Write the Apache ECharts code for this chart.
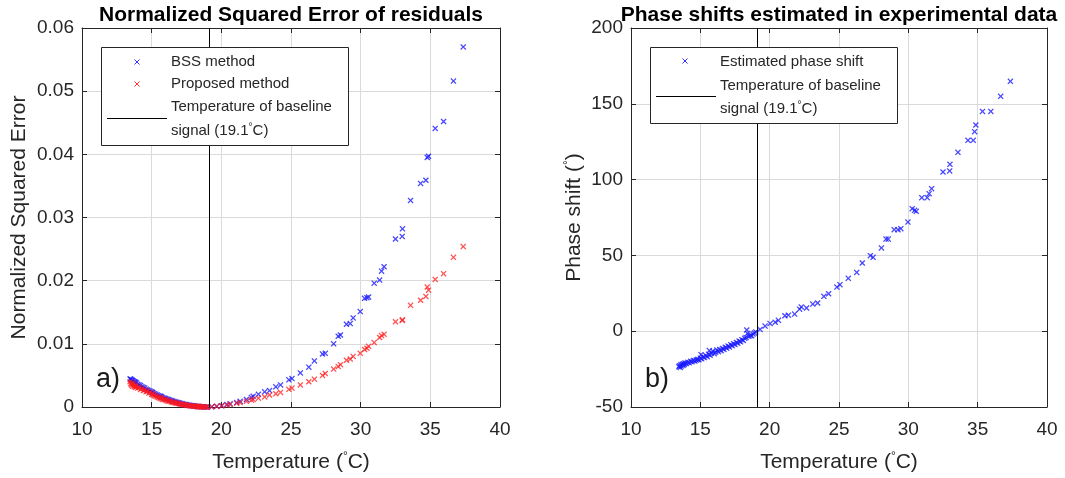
<!DOCTYPE html>
<html>
<head>
<meta charset="utf-8">
<script src="https://cdn.jsdelivr.net/npm/echarts@6/dist/echarts.min.js"></script>
<style>
html,body{margin:0;padding:0;background:#fff;}
#chart{width:1065px;height:478px;}
</style>
</head>
<body>
<div id="chart"></div>
<script>
// ---- Data ----
const temps = [
  13.45, 13.5, 13.55, 13.6, 13.62, 13.7, 13.75, 13.8, 13.85, 13.9,
  14.0, 14.1, 14.2, 14.3, 14.4, 14.5, 14.6, 14.7, 14.8, 14.9,
  15.0, 15.05, 15.1, 15.2, 15.3, 15.4, 15.5, 15.6, 15.65, 15.7,
  15.8, 15.9, 16.0, 16.1, 16.2, 16.3, 16.4, 16.5, 16.6, 16.7,
  16.8, 16.9, 17.0, 17.1, 17.2, 17.3, 17.4, 17.5, 17.6, 17.7,
  17.8, 17.9, 18.0, 18.1, 18.2, 18.3, 18.35, 18.4, 18.5, 18.6,
  18.7, 18.8, 18.9, 19.0,
  19.31, 19.67, 20.03, 20.4, 20.63, 21.1, 21.35, 21.8, 22.16, 22.28,
  22.66, 23.11, 23.46, 23.91, 24.25, 24.85, 25.07, 25.67, 26.28, 26.68,
  27.26, 27.46, 28.06, 28.39, 28.55, 28.98, 29.25, 29.46, 29.97, 30.28,
  30.45, 30.57, 30.97, 31.36, 31.5, 31.68, 32.5, 32.98, 33.0, 33.58,
  34.3, 34.68, 34.78, 34.87, 35.35, 35.95, 36.66, 37.36
];
const bssError = [
  0.00445, 0.0044, 0.0043, 0.0042, 0.0042, 0.0041, 0.0040, 0.0039, 0.0039, 0.0038,
  0.0036, 0.0035, 0.0034, 0.0032, 0.0031, 0.0030, 0.0028, 0.0027, 0.0026, 0.0025,
  0.0024, 0.0023, 0.0022, 0.0021, 0.0020, 0.0019, 0.0018, 0.0017, 0.0017, 0.0016,
  0.0015, 0.0014, 0.00135, 0.00126, 0.00118, 0.0011, 0.00102, 0.00095, 0.00088, 0.0008,
  0.00074, 0.00068, 0.00062, 0.00056, 0.0005, 0.00045, 0.0004, 0.00036, 0.00031, 0.00027,
  0.00024, 0.0002, 0.00017, 0.00014, 0.00011, 0.00009, 0.00008, 0.00007, 0.00005, 0.00004,
  0.00002, 0.00001, 0.00001, 0.0,
  0.00003, 0.0001, 0.0002, 0.0004, 0.0005, 0.0007, 0.0009, 0.0012, 0.0015, 0.0017,
  0.0020, 0.0024, 0.0026, 0.0032, 0.0035, 0.0043, 0.0045, 0.0054, 0.0063, 0.0073,
  0.0084, 0.0085, 0.0100, 0.0112, 0.0114, 0.0131, 0.0132, 0.0141, 0.0151, 0.0172,
  0.0173, 0.0174, 0.0196, 0.0201, 0.0215, 0.0222, 0.0266, 0.0270, 0.0282, 0.0327,
  0.0354, 0.0359, 0.0395, 0.0397, 0.0441, 0.0452, 0.0516, 0.0570
];
const proposedError = [
  0.0040, 0.0037, 0.0035, 0.0038, 0.0033, 0.0036, 0.0032, 0.0034, 0.0031, 0.0033,
  0.0030, 0.0031, 0.0028, 0.0029, 0.0026, 0.0027, 0.0024, 0.0025, 0.0022, 0.0023,
  0.0020, 0.0021, 0.0019, 0.0018, 0.0017, 0.0016, 0.0015, 0.0014, 0.0015, 0.0013,
  0.0012, 0.0012, 0.0011, 0.0010, 0.0009, 0.00095, 0.0008, 0.00075, 0.0007, 0.00065,
  0.0006, 0.00055, 0.0005, 0.00042, 0.0004, 0.00036, 0.0003, 0.00028, 0.00025, 0.00021,
  0.00019, 0.00016, 0.00013, 0.00011, 0.00009, 0.00007, 0.00006, 0.00005, 0.00004, 0.00003,
  0.00002, 0.00001, 0.00001, 0.0,
  0.00003, 0.0001, 0.00018, 0.0003, 0.0004, 0.0006, 0.0007, 0.0009, 0.0011, 0.0012,
  0.0014, 0.0016, 0.0019, 0.0021, 0.0023, 0.0028, 0.0030, 0.0035, 0.0040, 0.0044,
  0.0050, 0.0053, 0.0060, 0.0064, 0.0067, 0.0074, 0.0076, 0.0080, 0.0085, 0.0091,
  0.0093, 0.0096, 0.0102, 0.0110, 0.0113, 0.0115, 0.0135, 0.0137, 0.0138, 0.0161,
  0.0169, 0.0175, 0.0190, 0.0185, 0.0202, 0.0211, 0.0237, 0.0254
];
const phaseShift = [
  -23.5, -22.8, -23.9, -22.1, -23.0, -21.8, -22.6, -21.4, -22.0, -20.9,
  -21.3, -20.5, -20.8, -19.9, -20.2, -19.4, -19.7, -19.0, -18.6, -18.9,
  -17.8, -15.5, -18.2, -16.9, -17.4, -16.1, -16.8, -15.2, -12.8, -15.9,
  -14.6, -13.2, -14.8, -13.9, -12.4, -13.5, -12.1, -12.9, -11.4, -12.0,
  -10.6, -11.2, -9.8, -10.5, -8.9, -9.6, -8.2, -8.8, -7.4, -7.9,
  -6.5, -7.0, -5.6, -6.1, -4.7, -4.2, 0.8, -1.5, -3.4, -2.8,
  -3.0, -1.9, -1.2, -0.5,
  1.2, 3.4, 5.0, 5.9, 7.2, 10.2, 10.6, 11.3, 14.5, 16.0,
  15.3, 17.9, 18.6, 23.0, 24.7, 29.1, 30.7, 34.9, 38.8, 45.0,
  49.8, 48.7, 54.9, 60.8, 60.8, 67.0, 67.0, 67.6, 72.0, 80.8,
  79.7, 79.1, 88.1, 88.1, 90.7, 94.0, 105.0, 105.7, 110.1, 118.0,
  125.9, 125.9, 131.6, 136.0, 145.0, 145.0, 154.9, 164.8
];
const baselineTemp = 19.1;
const xTicks = {min: 10, max: 40, interval: 5};
const errTicks = {min: 0, max: 0.06, interval: 0.01};
const phaseTicks = {min: -50, max: 200, interval: 50};

// ---- Build chart ----
const FONT = '"Liberation Sans", Arial, Helvetica, sans-serif';
const AX = '#262626';
const X_SYMBOL = 'path://M0,1.5L1.5,0L5,3.5L8.5,0L10,1.5L6.5,5L10,8.5L8.5,10L5,6.5L1.5,10L0,8.5L3.5,5Z';
const zip = (a, b) => a.map((v, i) => [v, b[i]]);
const SUP = {fontFamily: FONT, fontSize: 12, color: AX, verticalAlign: 'top', padding: [0, 0, 10, 0]};

function mainX(gridIndex) {
  return {
    type: 'value', gridIndex, position: 'bottom',
    min: xTicks.min, max: xTicks.max, interval: xTicks.interval,
    name: 'Temperature ({s|°}C)', nameLocation: 'middle', nameGap: 44,
    nameTextStyle: {fontFamily: FONT, fontSize: 21, color: AX, rich: {s: SUP}},
    axisLine: {show: true, onZero: false, lineStyle: {color: AX, width: 1}},
    axisTick: {show: true, inside: true, length: 5, lineStyle: {color: AX}},
    axisLabel: {fontFamily: FONT, fontSize: 19, color: AX, margin: 13},
    splitLine: {show: true, lineStyle: {color: '#dadada', width: 1}}
  };
}
function topX(gridIndex) {
  return {
    type: 'value', gridIndex, position: 'top',
    min: xTicks.min, max: xTicks.max, interval: xTicks.interval,
    axisLine: {show: true, onZero: false, lineStyle: {color: AX, width: 1}},
    axisTick: {show: true, inside: true, length: 5, lineStyle: {color: AX}},
    axisLabel: {show: false}, splitLine: {show: false}
  };
}
function mainY(gridIndex, t, name, gap) {
  return {
    type: 'value', gridIndex, position: 'left',
    min: t.min, max: t.max, interval: t.interval,
    name, nameLocation: 'middle', nameGap: gap,
    nameTextStyle: {fontFamily: FONT, fontSize: 21, color: AX, rich: {s: SUP}},
    axisLine: {show: true, onZero: false, lineStyle: {color: AX, width: 1}},
    axisTick: {show: true, inside: true, length: 5, lineStyle: {color: AX}},
    axisLabel: {fontFamily: FONT, fontSize: 19, color: AX, margin: 8},
    splitLine: {show: true, lineStyle: {color: '#dadada', width: 1}}
  };
}
function rightY(gridIndex, t) {
  return {
    type: 'value', gridIndex, position: 'right',
    min: t.min, max: t.max, interval: t.interval,
    axisLine: {show: true, onZero: false, lineStyle: {color: AX, width: 1}},
    axisTick: {show: true, inside: true, length: 5, lineStyle: {color: AX}},
    axisLabel: {show: false}, splitLine: {show: false}
  };
}
function baseLine() {
  return {
    silent: true, symbol: ['none', 'none'], animation: false,
    label: {show: false},
    lineStyle: {color: '#000', width: 1, type: 'solid'},
    data: [{xAxis: baselineTemp}]
  };
}
function xMark(x, y, color) {
  return {
    type: 'group', x, y, z: 101,
    children: [
      {type: 'line', z: 101, shape: {x1: -2.5, y1: -2.5, x2: 2.5, y2: 2.5}, style: {stroke: color, lineWidth: 1, opacity: 0.8}},
      {type: 'line', z: 101, shape: {x1: 2.5, y1: -2.5, x2: -2.5, y2: 2.5}, style: {stroke: color, lineWidth: 1, opacity: 0.8}}
    ]
  };
}
function txt(x, y, text, size, extra) {
  return {
    type: 'text', z: 101, x, y,
    style: Object.assign({text, font: size + 'px ' + FONT, fill: AX,
      verticalAlign: 'middle', align: 'left',
      rich: {s: {font: '10px ' + FONT, fill: AX, verticalAlign: 'top', padding: [0, 0, 8, 0]}}}, extra || {})
  };
}

const option = {
  backgroundColor: '#fff',
  animation: false,
  grid: [
    {left: 82, top: 28, width: 418, height: 379},
    {left: 631, top: 28, width: 416, height: 379}
  ],
  xAxis: [mainX(0), topX(0), mainX(1), topX(1)],
  yAxis: [
    mainY(0, errTicks, 'Normalized Squared Error', 52),
    rightY(0, errTicks),
    mainY(1, phaseTicks, 'Phase shift ({s|°})', 46),
    rightY(1, phaseTicks)
  ],
  series: [
    {
      name: 'BSS method', type: 'scatter', xAxisIndex: 0, yAxisIndex: 0,
      data: zip(temps, bssError), symbol: X_SYMBOL, symbolSize: 6,
      itemStyle: {color: '#1a1aff', opacity: 0.8},
      markLine: baseLine()
    },
    {
      name: 'Proposed method', type: 'scatter', xAxisIndex: 0, yAxisIndex: 0,
      data: zip(temps, proposedError), symbol: X_SYMBOL, symbolSize: 6,
      itemStyle: {color: '#ff1a1a', opacity: 0.75}
    },
    {
      name: 'Estimated phase shift', type: 'scatter', xAxisIndex: 2, yAxisIndex: 2,
      data: zip(temps, phaseShift), symbol: X_SYMBOL, symbolSize: 6,
      itemStyle: {color: '#1a1aff', opacity: 0.8},
      markLine: baseLine()
    }
  ],
  graphic: [
    {type: 'text', x: 291, y: 15, z: 100, style: {text: 'Normalized Squared Error of residuals',
      font: 'bold 21px ' + FONT, fill: '#000', align: 'center', verticalAlign: 'middle'}},
    {type: 'text', x: 839, y: 15, z: 100, style: {text: 'Phase shifts estimated in experimental data',
      font: 'bold 21px ' + FONT, fill: '#000', align: 'center', verticalAlign: 'middle'}},
    txt(96, 380, 'a)', 27, {fill: '#1a1a1a'}),
    txt(645, 380, 'b)', 27, {fill: '#1a1a1a'}),
    {type: 'rect', z: 100, shape: {x: 101.5, y: 47.5, width: 247, height: 98},
      style: {fill: '#fff', stroke: AX, lineWidth: 1}},
    xMark(137, 62, '#0000ff'),
    xMark(137, 84, '#ff0000'),
    {type: 'line', z: 101, shape: {x1: 107, y1: 118.5, x2: 167, y2: 118.5}, style: {stroke: '#000', lineWidth: 1}},
    txt(171, 62, 'BSS method', 15),
    txt(171, 84, 'Proposed method', 15),
    txt(171, 107, 'Temperature of baseline', 15),
    txt(171, 131, 'signal (19.1{s|°}C)', 15),
    {type: 'rect', z: 100, shape: {x: 650.5, y: 47.5, width: 247, height: 76},
      style: {fill: '#fff', stroke: AX, lineWidth: 1}},
    xMark(685, 61, '#0000ff'),
    {type: 'line', z: 101, shape: {x1: 656, y1: 96.5, x2: 716, y2: 96.5}, style: {stroke: '#000', lineWidth: 1}},
    txt(720, 62, 'Estimated phase shift', 15),
    txt(720, 86, 'Temperature of baseline', 15),
    txt(720, 109, 'signal (19.1{s|°}C)', 15)
  ]
};

const chart = echarts.init(document.getElementById('chart'), null, {renderer: 'canvas'});
chart.setOption(option);
</script>
</body>
</html>
